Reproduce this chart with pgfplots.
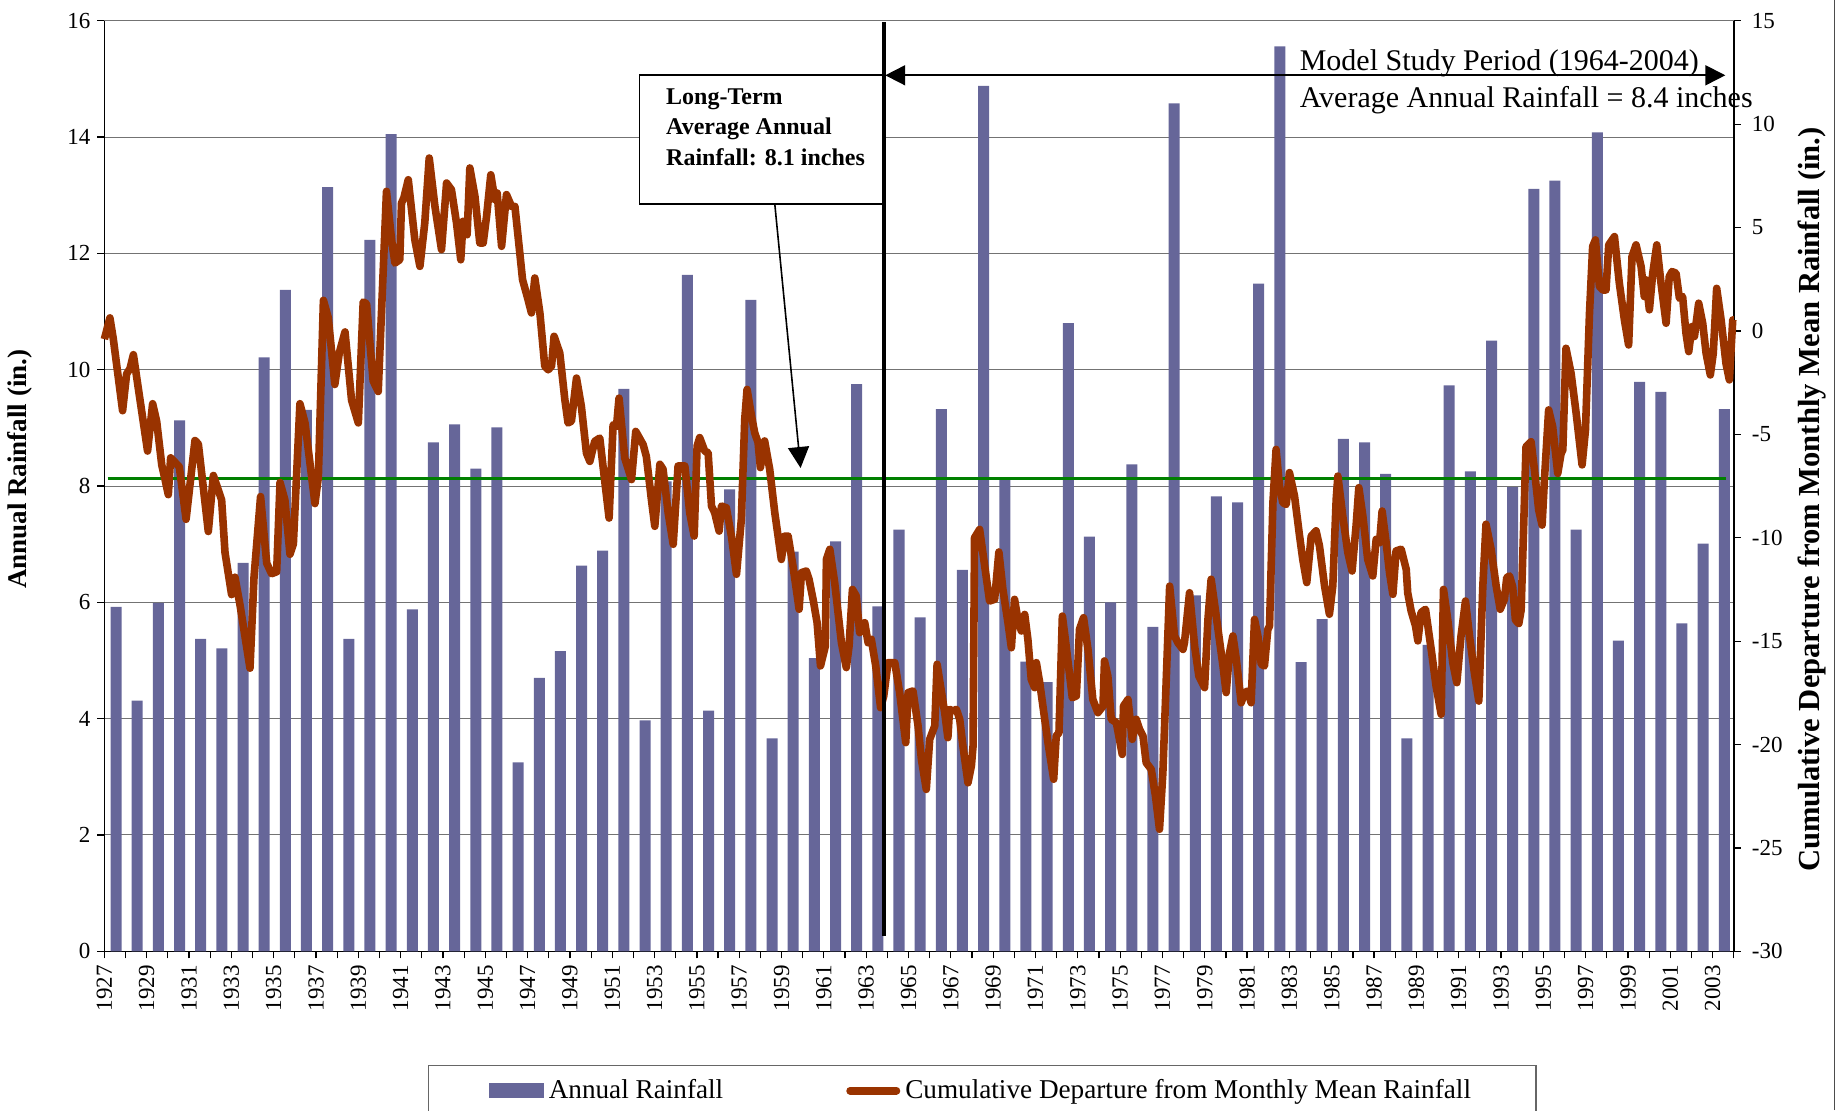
\documentclass[border=0pt]{standalone}
\usepackage{fontspec}
\setmainfont{Liberation Serif}
\usepackage{pgfplots}
\pgfplotsset{compat=1.18}
\usepackage{pgfplotstable}
\usetikzlibrary{arrows.meta}
\definecolor{barcol}{HTML}{666699}
\definecolor{linecol}{HTML}{993300}
\definecolor{avgcol}{HTML}{008000}

\pgfplotstableread{
year rain
1927 5.92
1928 4.31
1929 5.99
1930 9.13
1931 5.37
1932 5.21
1933 6.68
1934 10.21
1935 11.37
1936 9.31
1937 13.14
1938 5.37
1939 12.23
1940 14.05
1941 5.88
1942 8.75
1943 9.06
1944 8.30
1945 9.01
1946 3.25
1947 4.70
1948 5.16
1949 6.63
1950 6.89
1951 9.67
1952 3.97
1953 8.08
1954 11.63
1955 4.14
1956 7.94
1957 11.20
1958 3.66
1959 6.87
1960 5.04
1961 7.05
1962 9.75
1963 5.93
1964 7.25
1965 5.74
1966 9.32
1967 6.56
1968 14.88
1969 8.12
1970 4.98
1971 4.63
1972 10.80
1973 7.13
1974 6.00
1975 8.37
1976 5.58
1977 14.58
1978 6.12
1979 7.82
1980 7.72
1981 11.48
1982 15.56
1983 4.97
1984 5.71
1985 8.81
1986 8.75
1987 8.21
1988 3.66
1989 5.27
1990 9.73
1991 8.25
1992 10.50
1993 7.98
1994 13.11
1995 13.25
1996 7.25
1997 14.08
1998 5.34
1999 9.79
2000 9.62
2001 5.64
2002 7.01
2003 9.32
}\raindata

\pgfplotstableread{
t r
1927.00 -0.40
1927.26 0.63
1927.42 -0.38
1927.86 -3.86
1928.05 -2.08
1928.21 -1.82
1928.37 -1.15
1928.60 -2.76
1929.04 -5.81
1929.28 -3.52
1929.47 -4.37
1929.71 -6.48
1929.86 -7.16
1930.02 -7.92
1930.13 -6.14
1930.54 -6.57
1930.86 -9.11
1931.28 -5.30
1931.44 -5.47
1931.91 -9.70
1932.15 -6.99
1932.54 -8.18
1932.70 -10.72
1933.01 -12.75
1933.17 -11.91
1933.41 -13.26
1933.88 -16.31
1934.07 -11.91
1934.38 -8.01
1934.67 -11.23
1934.90 -11.74
1935.14 -11.65
1935.30 -7.33
1935.53 -8.18
1935.77 -10.80
1935.93 -10.30
1936.24 -3.52
1936.48 -4.45
1936.95 -8.35
1937.11 -7.08
1937.35 1.48
1937.58 0.63
1937.89 -2.59
1938.10 -1.06
1938.37 -0.05
1938.68 -3.35
1939.00 -4.45
1939.23 1.40
1939.39 1.31
1939.70 -2.42
1939.94 -2.93
1940.33 6.75
1940.57 4.41
1940.73 3.28
1940.96 3.44
1941.04 6.18
1941.15 6.43
1941.36 7.31
1941.67 4.41
1941.91 3.12
1942.14 5.22
1942.35 8.36
1942.62 6.02
1942.93 3.93
1943.17 7.15
1943.40 6.83
1943.64 5.22
1943.84 3.44
1943.95 5.30
1944.14 4.65
1944.27 7.88
1944.51 6.51
1944.74 4.25
1944.90 4.25
1945.06 5.54
1945.26 7.55
1945.45 6.35
1945.56 6.67
1945.77 4.09
1946.00 6.59
1946.24 6.02
1946.40 6.02
1946.63 3.77
1946.76 2.48
1947.02 1.51
1947.18 0.87
1947.34 2.56
1947.58 0.87
1947.81 -1.71
1947.97 -1.88
1948.13 -1.71
1948.25 -0.26
1948.52 -1.07
1948.76 -3.33
1948.91 -4.45
1949.07 -4.37
1949.31 -2.28
1949.54 -3.65
1949.78 -5.91
1949.94 -6.31
1950.17 -5.34
1950.41 -5.18
1950.60 -6.87
1950.85 -9.05
1951.04 -4.54
1951.20 -4.62
1951.32 -3.25
1951.59 -6.15
1951.91 -7.19
1952.11 -4.86
1952.46 -5.50
1952.61 -6.07
1952.85 -8.16
1953.01 -9.45
1953.25 -6.45
1953.40 -6.69
1953.64 -8.79
1953.88 -10.32
1954.11 -6.53
1954.43 -6.53
1954.66 -8.79
1954.87 -9.92
1955.01 -5.57
1955.13 -5.16
1955.37 -5.81
1955.53 -5.89
1955.69 -8.47
1955.84 -8.79
1956.05 -9.68
1956.16 -8.47
1956.39 -8.55
1956.63 -9.92
1956.87 -11.77
1957.10 -9.11
1957.26 -4.28
1957.37 -2.83
1957.58 -4.11
1957.73 -4.92
1957.89 -5.40
1958.00 -6.61
1958.20 -5.32
1958.44 -6.69
1958.68 -8.79
1958.99 -11.05
1959.15 -9.92
1959.31 -9.92
1959.54 -11.37
1959.83 -13.46
1959.94 -11.69
1960.17 -11.61
1960.30 -12.01
1960.49 -12.98
1960.68 -14.11
1960.84 -16.20
1961.07 -15.24
1961.12 -11.05
1961.28 -10.56
1961.51 -12.17
1961.83 -15.08
1962.06 -16.28
1962.19 -15.24
1962.35 -12.50
1962.53 -12.82
1962.69 -14.59
1962.93 -14.11
1963.09 -15.08
1963.24 -14.91
1963.45 -16.20
1963.68 -18.22
1963.83 -17.65
1964.03 -16.04
1964.35 -16.04
1964.58 -17.49
1964.87 -19.91
1964.98 -17.49
1965.21 -17.41
1965.45 -19.10
1965.61 -20.72
1965.84 -22.17
1966.00 -19.75
1966.24 -19.10
1966.35 -16.12
1966.71 -18.46
1966.86 -19.67
1966.94 -18.30
1967.10 -18.38
1967.26 -18.30
1967.42 -18.78
1967.57 -20.07
1967.81 -21.85
1967.97 -21.04
1968.05 -20.07
1968.12 -10.00
1968.36 -9.60
1968.60 -11.37
1968.83 -13.06
1969.07 -12.98
1969.27 -10.69
1969.46 -12.50
1969.70 -14.11
1969.86 -15.32
1970.01 -12.98
1970.17 -13.95
1970.33 -14.51
1970.49 -13.71
1970.64 -14.91
1970.80 -16.85
1970.96 -17.25
1971.04 -16.04
1971.20 -17.01
1971.35 -18.14
1971.59 -19.91
1971.86 -21.68
1971.98 -19.59
1972.11 -19.43
1972.27 -13.79
1972.45 -15.24
1972.74 -17.74
1972.93 -17.65
1973.08 -14.43
1973.27 -13.87
1973.48 -15.40
1973.71 -17.82
1973.95 -18.46
1974.19 -18.14
1974.26 -15.96
1974.42 -16.69
1974.58 -18.78
1974.82 -18.94
1975.10 -20.48
1975.16 -18.14
1975.37 -17.82
1975.57 -19.75
1975.76 -18.78
1975.92 -19.27
1976.08 -19.59
1976.23 -20.88
1976.47 -21.20
1976.67 -22.49
1976.86 -24.10
1977.02 -21.36
1977.18 -16.85
1977.34 -12.34
1977.57 -14.75
1977.73 -15.08
1977.97 -15.40
1978.04 -15.08
1978.28 -12.66
1978.52 -15.24
1978.72 -16.69
1978.99 -17.25
1979.15 -13.95
1979.30 -12.01
1979.54 -13.79
1979.86 -16.20
1980.01 -17.49
1980.17 -15.56
1980.33 -14.75
1980.49 -15.88
1980.72 -17.98
1980.88 -17.49
1981.04 -17.41
1981.19 -17.98
1981.35 -13.95
1981.51 -14.75
1981.67 -16.12
1981.82 -16.20
1981.98 -14.43
1982.06 -14.27
1982.22 -8.31
1982.37 -5.73
1982.53 -7.50
1982.69 -8.31
1982.85 -8.39
1983.00 -6.85
1983.24 -7.98
1983.48 -9.92
1983.63 -11.05
1983.82 -12.17
1984.03 -9.92
1984.26 -9.67
1984.42 -10.40
1984.66 -12.33
1984.89 -13.70
1985.05 -12.33
1985.21 -8.14
1985.29 -7.02
1985.52 -8.95
1985.76 -10.72
1985.96 -11.61
1986.15 -9.43
1986.28 -7.58
1986.47 -8.95
1986.70 -11.05
1986.94 -11.85
1987.10 -10.08
1987.26 -10.24
1987.38 -8.71
1987.57 -10.24
1987.73 -11.69
1987.89 -12.74
1988.04 -10.64
1988.28 -10.56
1988.52 -11.53
1988.59 -12.66
1988.75 -13.54
1988.96 -14.27
1989.07 -14.99
1989.22 -13.62
1989.43 -13.46
1989.70 -15.40
1989.93 -17.17
1990.17 -18.54
1990.28 -12.50
1990.48 -13.95
1990.72 -16.04
1990.91 -17.01
1991.11 -14.75
1991.32 -13.06
1991.51 -14.75
1991.74 -16.53
1991.95 -17.90
1992.14 -12.33
1992.29 -9.35
1992.53 -10.56
1992.77 -12.33
1992.96 -13.46
1993.16 -12.98
1993.27 -11.93
1993.40 -11.85
1993.55 -12.37
1993.68 -13.98
1993.84 -14.15
1993.95 -13.50
1994.06 -9.79
1994.18 -5.60
1994.42 -5.36
1994.58 -6.73
1994.78 -8.66
1994.94 -9.39
1995.05 -7.21
1995.25 -3.82
1995.44 -4.63
1995.68 -6.89
1995.84 -5.92
1995.92 -5.76
1996.07 -0.84
1996.31 -2.05
1996.55 -3.98
1996.83 -6.48
1996.99 -4.79
1997.18 0.86
1997.33 4.08
1997.46 4.40
1997.65 2.15
1997.81 1.98
1997.96 1.98
1998.09 4.16
1998.36 4.56
1998.59 2.31
1998.83 0.53
1999.03 -0.68
1999.19 3.60
1999.38 4.16
1999.62 3.11
1999.77 1.66
1999.85 2.47
2000.01 1.02
2000.17 2.79
2000.36 4.16
2000.56 2.31
2000.80 0.37
2000.95 2.63
2001.08 2.87
2001.27 2.79
2001.43 1.58
2001.58 1.66
2001.74 -0.11
2001.87 -1.00
2002.02 0.21
2002.14 -0.27
2002.34 1.34
2002.53 0.37
2002.69 -1.08
2002.89 -2.13
2003.03 -1.08
2003.19 2.06
2003.40 0.53
2003.63 -1.57
2003.79 -2.37
2003.95 0.53
2004.00 0.53
}\cumdata

\begin{document}
\begin{tikzpicture}
\clip (-52.2pt,-79.35pt) rectangle (867.3pt,475.65pt);
\begin{axis}[
  at={(0pt,0pt)}, anchor=south west,
  width=814.7pt, height=465.3pt, scale only axis,
  xmin=1927, xmax=2004, ymin=0, ymax=16,
  axis x line*=bottom, axis y line*=left,
  axis line style={line width=0.8pt, black},
  xtick={1927,1929,...,2003},
  minor xtick={1928,1930,...,2004},
  ytick={0,2,...,16},
  tick align=outside,
  major tick length=3.5pt, minor tick length=3.5pt,
  tick style={black, line width=0.6pt},
  ymajorgrids, grid style={black!55, line width=0.5pt},
  xticklabel style={rotate=90, anchor=east, font=\fontsize{11.5}{13}\selectfont},
  yticklabel style={font=\fontsize{11.5}{13}\selectfont},
  /pgf/number format/assume math mode=true,
  /pgf/number format/1000 sep={},
  ylabel={Annual Rainfall (in.)},
  ylabel style={at={(axis description cs:-0.052,0.518)}, anchor=center, font=\bfseries\fontsize{13.5}{15}\selectfont},
]
\addplot[ybar, bar width=0.52, fill=barcol, draw=none] table[x expr=\thisrow{year}+0.55, y=rain] {\raindata};
\addplot[avgcol, line width=1.5pt, no markers] coordinates {(1927.15,8.13) (2003.63,8.13)};
\end{axis}
\begin{axis}[
  at={(0pt,0pt)}, anchor=south west,
  width=814.7pt, height=465.3pt, scale only axis,
  xmin=1927, xmax=2004, ymin=-30, ymax=15,
  clip=false,
  axis x line=none, axis y line*=right,
  axis line style={line width=0.8pt, black},
  ytick={-30,-25,...,15},
  tick align=outside, major tick length=3.5pt,
  tick style={black, line width=0.6pt},
  yticklabel style={font=\fontsize{11.5}{13}\selectfont, anchor=west, xshift=2pt},
  /pgf/number format/assume math mode=true,
  ylabel={Cumulative Departure from Monthly Mean Rainfall (in.)},
  ylabel style={at={(axis description cs:1.048,0.4855)}, anchor=center, font=\bfseries\fontsize{15.3}{17}\selectfont},
  legend style={at={(axis description cs:0.1986,-0.1222)}, anchor=north west,
    draw=black!60, line width=0.6pt, fill=white, legend columns=2,
    inner xsep=30pt, inner ysep=4pt, font=\fontsize{13.6}{16}\selectfont,
    nodes={inner xsep=2.5pt, inner ysep=3pt},
    /tikz/every even column/.append style={column sep=59pt}},
  legend cell align=left,
]
\addlegendimage{legend image code/.code={\fill[barcol] (0pt,-3.5pt) rectangle (27pt,3.5pt);}}
\addlegendentry{Annual Rainfall}
\addplot[linecol, line width=3.8pt, line join=round, no markers,
  legend image code/.code={\draw[linecol, line width=3.8pt, line cap=round] (1.9pt,0pt) -- (25.1pt,0pt);}]
  table[x=t, y=r] {\cumdata};
\addlegendentry{Cumulative Departure from Monthly Mean Rainfall}
% annotations
\draw[fill=white, line width=0.8pt] (axis cs:1952.28,6.14) rectangle (axis cs:1963.82,12.36);
\node[anchor=north west, align=left, inner sep=0pt, font=\bfseries\fontsize{12}{15.2}\selectfont] at (axis cs:1953.53,11.74) {Long-Term\\Average Annual\\Rainfall: 8.1 inches};
\draw[-{Triangle[length=10.5pt,width=10.5pt]}, line width=0.8pt] (axis cs:1958.68,6.14) -- (axis cs:1959.90,-6.63);
\draw[line width=1.8pt] (axis cs:1963.85,-29.24) -- (axis cs:1963.85,14.92);
\draw[{Triangle[length=10pt,width=10pt]}-{Triangle[length=10pt,width=10pt]}, line width=0.9pt] (axis cs:1963.9,12.36) -- (axis cs:2003.6,12.36);
\node[anchor=base west, inner sep=0pt, font=\fontsize{15}{18}\selectfont] at (axis cs:1983.47,12.61) {Model Study Period (1964-2004)};
\node[anchor=base west, inner sep=0pt, font=\fontsize{15}{18}\selectfont] at (axis cs:1983.47,10.78) {Average Annual Rainfall = 8.4 inches};
\end{axis}
\draw[black!70, line width=0.6pt] (865pt,-79.35pt) -- (865pt,475.65pt);
\end{tikzpicture}
\end{document}
